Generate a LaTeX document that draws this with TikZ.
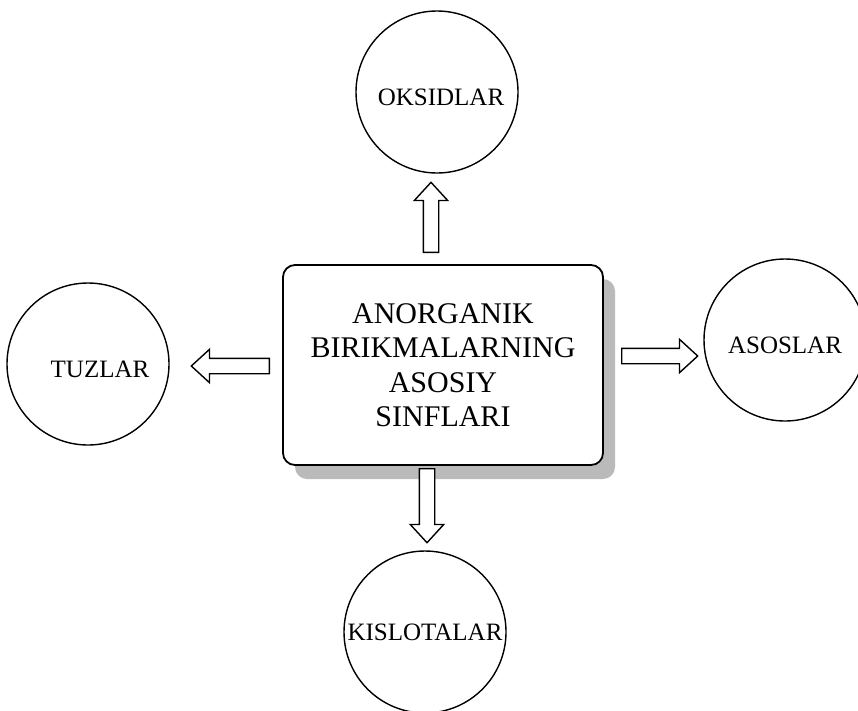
\documentclass[tikz,border=0pt]{standalone}
\usepackage{fontspec}
\setmainfont{Liberation Serif}
\usetikzlibrary{shapes.arrows, shadows}

\begin{document}
\begin{tikzpicture}[
  x=1pt, y=-1pt,
  hub/.style={draw=black, line width=1.8pt, rounded corners=12pt, fill=white, minimum width=320pt, minimum height=200pt, align=center, font=\fontsize{30}{34.5}\selectfont, drop shadow={shadow xshift=12pt, shadow yshift=-14pt, fill=black!27, opacity=1}},
  bubble/.style={draw=black, line width=1.4pt, circle, minimum size=162pt, inner sep=0pt},
  bubtext/.style={font=\fontsize{25}{30}\selectfont, inner sep=0pt},
  blockarr/.style={draw=black, line width=1.4pt, fill=white, single arrow, single arrow tip angle=85, single arrow head extend=9pt, inner sep=7pt, minimum height=#1, anchor=tail}
]
  \useasboundingbox (0,0) rectangle (858,710);

  \node[hub] (core) at (443,365) {ANORGANIK\\BIRIKMALARNING\\ASOSIY\\SINFLARI};

  \node[bubble, label={[bubtext, xshift=4pt, yshift=-5pt]center:OKSIDLAR}] (oksid) at (437,92) {};
  \node[bubble, label={[bubtext, xshift=12pt, yshift=-5pt]center:TUZLAR}] (tuzlar) at (88,364) {};
  \node[bubble, label={[bubtext, yshift=-5pt]center:ASOSLAR}] (asos) at (785,340) {};
  \node[bubble, label={[bubtext]center:KISLOTALAR}] (kislota) at (425,632) {};

  \node[blockarr=70pt, shape border rotate=90] (toOksid) at (431,253) {};
  \node[blockarr=78pt, shape border rotate=180] (toTuzlar) at (270,366) {};
  \node[blockarr=76pt] (toAsos) at (621,356) {};
  \node[blockarr=74pt, shape border rotate=270] (toKislota) at (427,468) {};
\end{tikzpicture}
\end{document}
